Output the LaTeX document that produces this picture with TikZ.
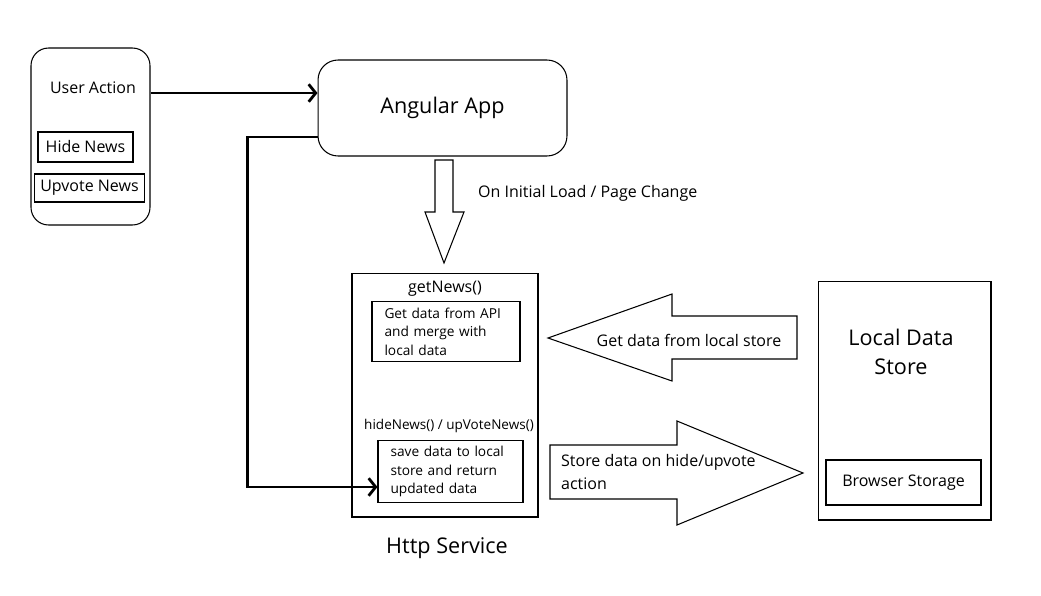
\documentclass[tikz,border=0pt]{standalone}
\usepackage{fontspec}
\setmainfont{Open Sans}
\usepackage{tikz}
\usetikzlibrary{
    arrows.meta,
    positioning,
    calc
}
\tikzset{
    roundbox/.style = {
        rectangle,
        rounded corners=0.35cm,
        draw,
        line width=0.6pt
    },
    plainbox/.style = {
        rectangle,
        draw,
        line width=0.6pt
    },
    notebox/.style = {
        rectangle,
        draw,
        line width=0.6pt,
        align=left,
        font=\fontsize{7.8}{10.5}\selectfont,
        inner xsep=0.25cm
    },
    bigtext/.style = {
        font=\fontsize{12.3}{16.4}\selectfont,
        align=center
    },
    midtext/.style = {
        font=\fontsize{9.1}{13}\selectfont
    },
    blockarrow/.style = {
        draw,
        line width=0.6pt
    },
    bigarrow/.style = {
        -{Straight Barb[length=4pt,width=10pt]},
        line width=1.6pt
    }
}

\begin{document}
\begin{tikzpicture}[x=0.02cm,y=-0.02cm]
\useasboundingbox (0,0) rectangle (1041,595);

% left: user actions
\node (useract) [roundbox,minimum width=2.38cm,minimum height=3.54cm] at (90.5,136.5) {};
\node (ualabel) [midtext] at (93,88) {User Action};
\node (hide) [plainbox,midtext,minimum width=1.9cm,minimum height=0.6cm] at (85.5,147) {Hide News};
\node (upvote) [plainbox,midtext,minimum width=2.18cm,minimum height=0.56cm] at (89.5,188) {Upvote News};

% top: the app
\node (angular) [roundbox,rounded corners=0.4cm,bigtext,minimum width=4.98cm,minimum height=1.92cm] at (442.5,108) {Angular App};

% middle: http service
\node (http) [plainbox,minimum width=3.72cm,minimum height=4.88cm] at (445,395) {};
\node (getnews) [midtext] at (445,289) {getNews()};
\node (apibox) [notebox,text width=2.46cm,minimum height=1.1cm] at (446,331.5) {Get data from API\\and merge with\\local data};
\node (hidenews) [font=\fontsize{7.7}{10}\selectfont] at (449,426) {hideNews() / upVoteNews()};
\node (savebox) [notebox,text width=2.4cm,minimum height=1.22cm] at (450.5,471.5) {save data to local\\store and return\\updated data};
\node (httplabel) [bigtext] at (447,548) {Http Service};

% right: local store
\node (store) [plainbox,minimum width=3.46cm,minimum height=4.78cm] at (904.5,400.5) {};
\node (storelabel) [bigtext] at (901,352) {Local Data\\Store};
\node (browser) [plainbox,midtext,minimum width=3.1cm,minimum height=0.9cm] at (903.5,482.5) {Browser Storage};

% connectors
\draw[bigarrow] ([yshift=0.3cm]angular.west -| useract.east) -- ([yshift=0.3cm]angular.west);
\draw[bigarrow] ([yshift=-0.58cm]angular.west) -- ++(-1.4cm,0) |- ([yshift=-0.31cm]savebox.west);

% block arrows
\draw[blockarrow] (435,160) -- (453,160) -- (453,212) -- (464,212) -- (444,263) -- (425,212) -- (435,212) -- cycle;
\node (loadlabel) [midtext,anchor=west] at (472,193) {On Initial Load / Page Change};

\draw[blockarrow] (548,338) -- (672,294) -- (672,316) -- (797,316) -- (797,359) -- (672,359) -- (672,381) -- cycle;
\node (getlabel) [midtext] at (689,340) {Get data from local store};

\draw[blockarrow] (550,445) -- (677,445) -- (677,421) -- (803,473) -- (677,525) -- (677,499) -- (550,499) -- cycle;
\node (storelabel2) [midtext,anchor=west,align=left] at (555,472) {Store data on hide/upvote\\action};
\end{tikzpicture}
\end{document}
